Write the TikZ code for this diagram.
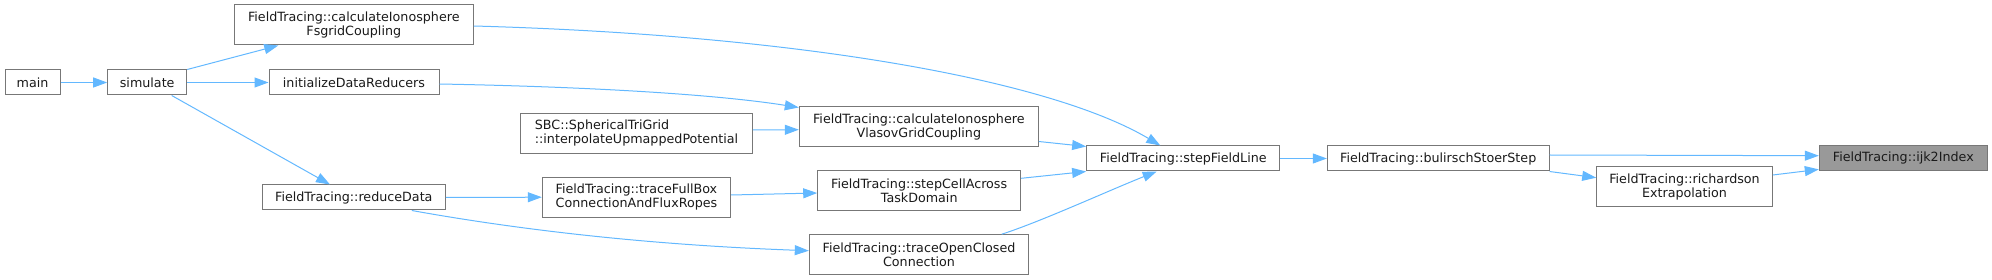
\documentclass[tikz,border=0pt]{standalone}
\usepackage{fontspec}
\newfontfamily\dvs{DejaVu Sans}
\usetikzlibrary{arrows.meta}
\definecolor{edgeblue}{HTML}{63B8FF}
\definecolor{nodeborder}{HTML}{777777}
\definecolor{curfill}{HTML}{999999}
\definecolor{txt}{HTML}{1A1A1A}
\tikzset{
  fn/.style={draw=nodeborder, line width=1pt, inner sep=0pt, minimum height=25pt,
    font=\dvs\fontsize{12.7}{14.3}\selectfont, text=txt, align=center, fill=white},
  fntwo/.style={fn, minimum height=40pt},
  fnleft/.style={fntwo, align=left},
  call/.style={draw=edgeblue, line width=1pt, -{Triangle[length=14pt,width=10pt]}},
}
\begin{document}
\begin{tikzpicture}[x=1pt,y=-1pt]
\useasboundingbox (0,0) rectangle (1992,280);
% nodes
\node[fn, minimum width=55pt] (main) at (32.5,82.5) {main};
\node[fn, minimum width=79pt] (sim) at (147.2,82.5) {simulate};
\node[fntwo, minimum width=239pt] (fsgrid) at (353.8,25) {FieldTracing::calculateIonosphere\\FsgridCoupling};
\node[fn, minimum width=170pt] (initdr) at (354,82.5) {initializeDataReducers};
\node[fn, minimum width=183pt] (reduce) at (353.8,197.5) {FieldTracing::reduceData};
\node[fnleft, minimum width=231.6pt] (sbc) at (636.5,133.3) {SBC::SphericalTriGrid\\::interpolateUpmappedPotential};
\node[fnleft, minimum width=188.4pt] (fullbox) at (636.5,197.2) {FieldTracing::traceFullBox\\ConnectionAndFluxRopes};
\node[fntwo, minimum width=239pt] (vlasov) at (918.8,126.7) {FieldTracing::calculateIonosphere\\VlasovGridCoupling};
\node[fntwo, minimum width=203pt] (stepcell) at (919.2,190.7) {FieldTracing::stepCellAcross\\TaskDomain};
\node[fntwo, minimum width=219.4pt] (openclosed) at (919,254.7) {FieldTracing::traceOpenClosed\\Connection};
\node[fn, minimum width=193.3pt] (stepfl) at (1183.3,158.5) {FieldTracing::stepFieldLine};
\node[fn, minimum width=221.7pt] (bs) at (1438.2,158.5) {FieldTracing::bulirschStoerStep};
\node[fntwo, minimum width=175.6pt] (rich) at (1684.5,186.7) {FieldTracing::richardson\\Extrapolation};
\node[fn, minimum width=168pt, fill=curfill] (ijk) at (1903.3,158.4) {FieldTracing::ijk2Index};
% edges
\draw[call] (main.east) -- (sim.west);
\draw[call] (sim.north east) -- ([xshift=-75.5pt]fsgrid.south);
\draw[call] (sim.east) -- (initdr.west);
\draw[call] ([xshift=24.5pt]sim.south) -- ([xshift=-23.8pt]reduce.north);
\draw[call] ([yshift=-1pt]fsgrid.east) .. controls (800,35) and (1050,80) .. ([xshift=-23pt]stepfl.north);
\draw[call] ([yshift=-1.5pt]initdr.east) .. controls (600,87) and (720,95) .. ([yshift=-1.3pt]vlasov.north west);
\draw[call] ([yshift=3.3pt]sbc.east) -- ([yshift=-3pt]vlasov.west);
\draw[call] (reduce.east) -- (fullbox.west);
\draw[call] ([xshift=58pt]reduce.south) .. controls (520,230) and (650,245) .. ([yshift=4pt]openclosed.west);
\draw[call] ([yshift=2.2pt]fullbox.east) -- ([yshift=-2.3pt]stepcell.west);
\draw[call] ([yshift=5.7pt]vlasov.south east) -- ([yshift=-1pt]stepfl.north west);
\draw[call] ([yshift=12.4pt]stepcell.east) -- (stepfl.south west);
\draw[call] ([xshift=82.7pt]openclosed.north) .. controls (1040,222) and (1110,190) .. ([xshift=-26.6pt]stepfl.south);
\draw[call] (stepfl.east) -- (bs.west);
\draw[call] ([yshift=3.5pt]bs.east) -- ([yshift=2.7pt]ijk.west);
\draw[call] (bs.south east) -- ([yshift=9pt]rich.west);
\draw[call] ([yshift=11.7pt]rich.east) -- ([yshift=2pt]ijk.south west);
\end{tikzpicture}
\end{document}
